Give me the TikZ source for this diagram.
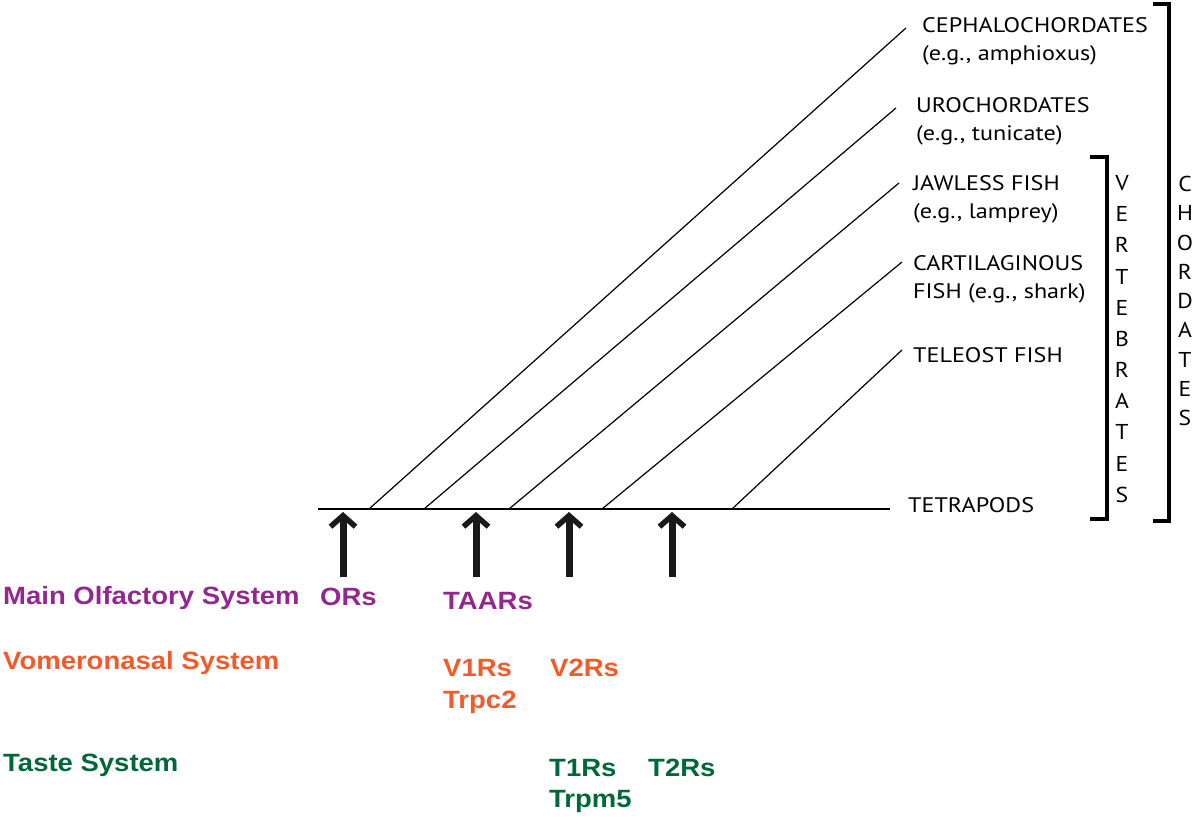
\documentclass[tikz,border=0pt]{standalone}
\usepackage{fontspec}
\usetikzlibrary{arrows.meta}
\newfontfamily\myr[FakeStretch=1.15]{PT Sans}
\newfontfamily\myv[FakeStretch=1.1]{PT Sans}
\newfontfamily\arb[FakeStretch=1.1]{Liberation Sans}
\definecolor{olfpurple}{HTML}{92278F}
\definecolor{vnorange}{HTML}{F15A29}
\definecolor{tastegreen}{HTML}{006838}
\begin{document}
\begin{tikzpicture}[x=1pt,y=-1pt,
  thinline/.style={line width=1.2pt,black},
  baseline/.style={line width=2pt,black},
  bracket/.style={line width=3.5pt,black,line cap=butt,line join=miter},
  marker/.style={line width=7pt,color=black!90,-{Straight Barb[length=11pt,width=25pt,line width=5.5pt]}},
  taxon/.style={anchor=base west,inner sep=0pt,font=\myr\fontsize{21}{25}\selectfont},
  sysl/.style={anchor=base west,inner sep=0pt,font=\arb\bfseries\fontsize{25}{30}\selectfont},
  vlab/.style={inner sep=0pt,align=center,font=\myv\fontsize{21.5}{#1}\selectfont}
]
\useasboundingbox (0,0) rectangle (1195,819);
% baseline
\coordinate (b0) at (318,509);
\coordinate (b1) at (890,509);
\draw[baseline] (b0) -- (b1);
% branch points and ends
\coordinate (s1) at (369,509); \coordinate (e1) at (906,28);
\coordinate (s2) at (424,509); \coordinate (e2) at (896,108);
\coordinate (s3) at (509,509); \coordinate (e3) at (899,183);
\coordinate (s4) at (602,509); \coordinate (e4) at (902,262);
\coordinate (s5) at (732,509); \coordinate (e5) at (902,350);
\foreach \i in {1,...,5} {\draw[thinline] (s\i) -- (e\i);}
% taxon labels
\node[taxon] (ceph1) at (922,32) {CEPHALOCHORDATES};
\node[taxon] (ceph2) at (922,60) {(e.g., amphioxus)};
\node[taxon] (uro1) at (916,112) {UROCHORDATES};
\node[taxon] (uro2) at (916,140) {(e.g., tunicate)};
\node[taxon] (jaw1) at (913,190) {JAWLESS FISH};
\node[taxon] (jaw2) at (913,218) {(e.g., lamprey)};
\node[taxon] (car1) at (913,270) {CARTILAGINOUS};
\node[taxon] (car2) at (913,298) {FISH (e.g., shark)};
\node[taxon] (tel) at (913,362) {TELEOST FISH};
\node[taxon] (tet) at (908,512) {TETRAPODS};
% brackets
\coordinate (v0) at (1090,157); \coordinate (v1) at (1107,157);
\coordinate (v2) at (1107,519); \coordinate (v3) at (1090,519);
\draw[bracket] (v0) -- (v1) -- (v2) -- (v3);
\coordinate (c0) at (1153,4); \coordinate (c1) at (1169,4);
\coordinate (c2) at (1169,521); \coordinate (c3) at (1153,521);
\draw[bracket] (c0) -- (c1) -- (c2) -- (c3);
\node[vlab=31.15] (vert) at (1122,339) {V\\E\\R\\T\\E\\B\\R\\A\\T\\E\\S};
\node[vlab=29.25] (chord) at (1185,301) {C\\H\\O\\R\\D\\A\\T\\E\\S};
% arrows
\foreach \x/\n in {343/a1,476/a2,569/a3,672/a4} {
  \coordinate (\n b) at (\x,577);
  \coordinate (\n t) at (\x,512);
  \draw[marker] (\n b) -- (\n t);
}
% system labels
\node[sysl,text=olfpurple] (mos) at (3,604) {Main Olfactory System};
\node[sysl,text=olfpurple] (ors) at (320,605) {ORs};
\node[sysl,text=olfpurple] (taar) at (443,609) {TAARs};
\node[sysl,text=vnorange] (vns) at (3,669) {Vomeronasal System};
\node[sysl,text=vnorange] (v1r) at (443,676) {V1Rs};
\node[sysl,text=vnorange] (trpc) at (443,708) {Trpc2};
\node[sysl,text=vnorange] (v2r) at (550,676) {V2Rs};
\node[sysl,text=tastegreen] (tas) at (3,771) {Taste System};
\node[sysl,text=tastegreen] (t1r) at (549,776) {T1Rs};
\node[sysl,text=tastegreen] (trpm) at (549,807) {Trpm5};
\node[sysl,text=tastegreen] (t2r) at (648,776) {T2Rs};
\end{tikzpicture}
\end{document}
